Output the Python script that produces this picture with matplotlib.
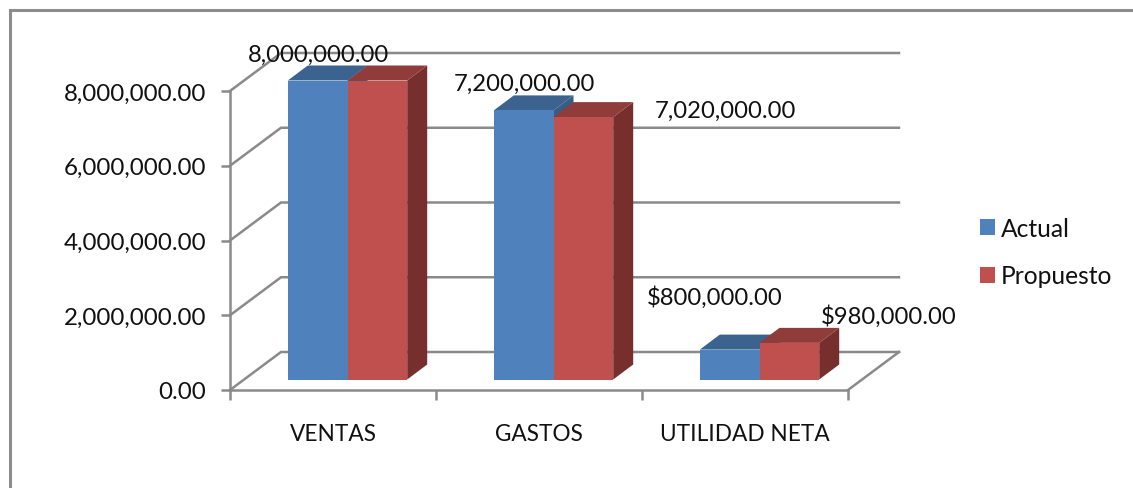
import matplotlib
matplotlib.use('Agg')
import matplotlib.pyplot as plt
from matplotlib.lines import Line2D

plt.rcParams['font.family'] = ['Lato', 'DejaVu Sans']

categories = ['VENTAS', 'GASTOS', 'UTILIDAD NETA']
actual = [8000000, 7200000, 800000]
propuesto = [8000000, 7020000, 980000]
y_ticks = [0, 2000000, 4000000, 6000000, 8000000]
y_labels = ['0.00', '2,000,000.00', '4,000,000.00', '6,000,000.00', '8,000,000.00']
actual_labels = ['8,000,000.00', '7,200,000.00', '$800,000.00']
propuesto_labels = ['', '7,020,000.00', '$980,000.00']

W, H = 1133, 489
GREY = '#8a8a8a'
TXT = '#111111'

fig = plt.figure(figsize=(W / 100, H / 100), dpi=100)
# front face of the fake 3d box, in pixels of the image
left, right, bottom, top = 230, 848, 391, 92
ax = fig.add_axes([left / W, 1 - bottom / H, (right - left) / W, (bottom - top) / H])
ax.set_xlim(-0.5, 2.5)
ax.set_ylim(0, 8000000)

ux = (right - left) / 3            # pixels per category
uy = (bottom - top) / 8000000      # pixels per unit of value

# back wall and floor
wall_dx, wall_dy = 51 / ux, 38 / uy
for v in y_ticks:
    ax.plot([-0.5, -0.5 + wall_dx, 2.5 + wall_dx], [v, v + wall_dy, v + wall_dy],
            color=GREY, lw=1.8, clip_on=False, zorder=1, solid_joinstyle='miter')
ax.plot([2.5, 2.5 + wall_dx], [0, wall_dy], color=GREY, lw=1.8, clip_on=False, zorder=1)

# bars, pushed a bit into the box
shift_x, shift_y = 14.5 / ux, 10.5 / uy
bar_w = 59.7 / ux
side_dx, side_dy = 20 / ux, 15 / uy


def bar3d(x, val, face, top_c, side_c, z, label=None):
    b = shift_y
    t = val + shift_y
    x0, x1 = x - bar_w / 2, x + bar_w / 2
    ax.fill([x1, x1 + side_dx, x1 + side_dx, x1], [b, b + side_dy, t + side_dy, t],
            color=side_c, lw=0, clip_on=False, zorder=z)
    ax.fill([x0, x0 + side_dx, x1 + side_dx, x1], [t, t + side_dy, t + side_dy, t],
            color=top_c, lw=0, clip_on=False, zorder=z)
    ax.bar(x, val, bar_w, bottom=b, color=face, lw=0, clip_on=False, zorder=z, label=label)


for i in range(len(categories)):
    bar3d(i + shift_x - bar_w / 2, actual[i], '#4F81BD', '#3C6290', '#395C87', 3 + i * 2,
          'Actual' if i == 0 else None)
    bar3d(i + shift_x + bar_w / 2, propuesto[i], '#C0504D', '#8F3C3A', '#772F2D', 4 + i * 2,
          'Propuesto' if i == 0 else None)

# axes
for s in ['top', 'right']:
    ax.spines[s].set_visible(False)
for s in ['left', 'bottom']:
    ax.spines[s].set_color(GREY)
    ax.spines[s].set_linewidth(1.8)
    ax.spines[s].set_zorder(2)
ax.set_yticks(y_ticks)
ax.set_yticklabels(y_labels, fontsize=17.4, color=TXT)
ax.tick_params(axis='y', length=6.5, width=1.8, color=GREY, pad=10.5)
ax.set_xticks([-0.5, 0.5, 1.5, 2.5])
ax.set_xticklabels([])
ax.tick_params(axis='x', which='major', length=7, width=1.8, color=GREY)
ax.set_xticks([0, 1, 2], minor=True)
ax.set_xticklabels(categories, minor=True, fontsize=16.3, color=TXT)
ax.tick_params(axis='x', which='minor', length=0, pad=24)

# data labels, offset in pixels from the top of each bar
actual_off = [(1, 26), (1, 27), (-15, 53)]
propuesto_off = [(0, 0), (142, 7), (99, 27)]
for i in range(len(categories)):
    xa = i + shift_x - bar_w / 2
    xp = i + shift_x + bar_w / 2
    ax.annotate(actual_labels[i], (xa, actual[i] + shift_y), xytext=actual_off[i],
                textcoords='offset pixels', ha='center', va='center', fontsize=17.2,
                color=TXT, zorder=20, annotation_clip=False)
    if propuesto_labels[i]:
        ax.annotate(propuesto_labels[i], (xp, propuesto[i] + shift_y), xytext=propuesto_off[i],
                    textcoords='offset pixels', ha='center', va='center', fontsize=17.2,
                    color=TXT, zorder=20, annotation_clip=False)

h, l = ax.get_legend_handles_labels()
fig.legend(h, l, loc='center left', bbox_to_anchor=(980 / W, 1 - 253 / H), frameon=False,
           fontsize=17.7, handlelength=0.61, handleheight=0.61, handletextpad=0.25,
           labelspacing=1.0, borderpad=0, borderaxespad=0, labelcolor=TXT)

# outer chart border, only left and top show in the picture
fig.add_artist(Line2D([9.5 / W, 9.5 / W, 1], [0, 1 - 10.5 / H, 1 - 10.5 / H],
                      color='#8c8c8c', lw=2.2, solid_joinstyle='miter'))

fig.savefig('out.png', dpi=100)
